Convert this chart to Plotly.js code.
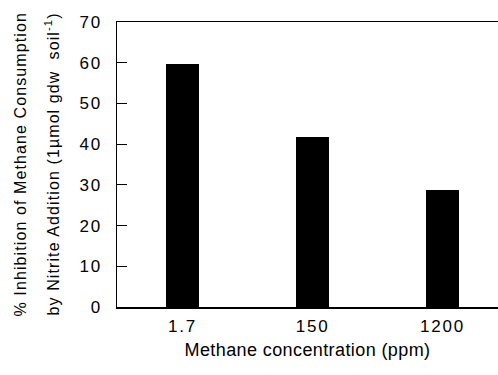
<!DOCTYPE html>
<html><head><meta charset="utf-8">
<script src="https://cdn.plot.ly/plotly-3.0.1.min.js"></script>
<style>
body{margin:0;background:#fff}#c{width:498px;height:375px}
.xtick text, .ytick text { letter-spacing: 1.8px; }
.xtitle { letter-spacing: 0.4px; }
.annotation-text { letter-spacing: 1.1px; }
</style>
</head><body><div id="c"></div>
<script>
const categories = ["1.7", "150", "1200"];
const inhibition = [59.7, 41.8, 28.7];
const yTicks = [0, 10, 20, 30, 40, 50, 60, 70];
const yTitleLines = ["% Inhibition of Methane Consumption", "by Nitrite Addition (1µmol gdw  soil<sup>-1</sup>)"];
const xTitle = "Methane concentration (ppm)";

const fontFam = "Arial, 'Liberation Sans', Helvetica, sans-serif";
const L = 117, W = 498 - 117;
Plotly.newPlot("c", [{
  type: "bar",
  x: [0, 1, 2],
  y: inhibition,
  width: 0.254,
  marker: {color: "#000", line: {width: 0}},
  hoverinfo: "none"
}], {
  width: 498, height: 375,
  margin: {l: L, r: 0, t: 22, b: 68},
  paper_bgcolor: "#fff", plot_bgcolor: "#fff",
  showlegend: false,
  bargap: 0,
  xaxis: {
    range: [-0.504, 2.427],
    tickvals: [0, 1, 2], ticktext: categories,
    ticks: "", showline: true, linecolor: "#000", linewidth: 1.5, mirror: true,
    showgrid: false, zeroline: false, ticklabelstandoff: 3,
    tickfont: {family: fontFam, size: 17, color: "#000"},
    title: {text: xTitle, font: {family: fontFam, size: 18, color: "#000"}, standoff: 8}
  },
  yaxis: {
    range: [0, 70], tickvals: yTicks,
    ticks: "inside", ticklen: 10, tickcolor: "#000", tickwidth: 1,
    showline: true, linecolor: "#000", linewidth: 1.5,
    showgrid: false, zeroline: false, ticklabelstandoff: 10,
    tickfont: {family: fontFam, size: 17, color: "#000"}
  },
  annotations: [
    {text: yTitleLines[0], textangle: -90, xref: "paper", yref: "paper", x: (20 - L) / W, y: 0.5,
     showarrow: false, font: {family: fontFam, size: 16, color: "#000"}, xanchor: "center", yanchor: "middle"},
    {text: yTitleLines[1], textangle: -90, xref: "paper", yref: "paper", x: (52 - L) / W, y: 0.5,
     showarrow: false, font: {family: fontFam, size: 16, color: "#000"}, xanchor: "center", yanchor: "middle"}
  ]
}, {staticPlot: true});
</script></body></html>
